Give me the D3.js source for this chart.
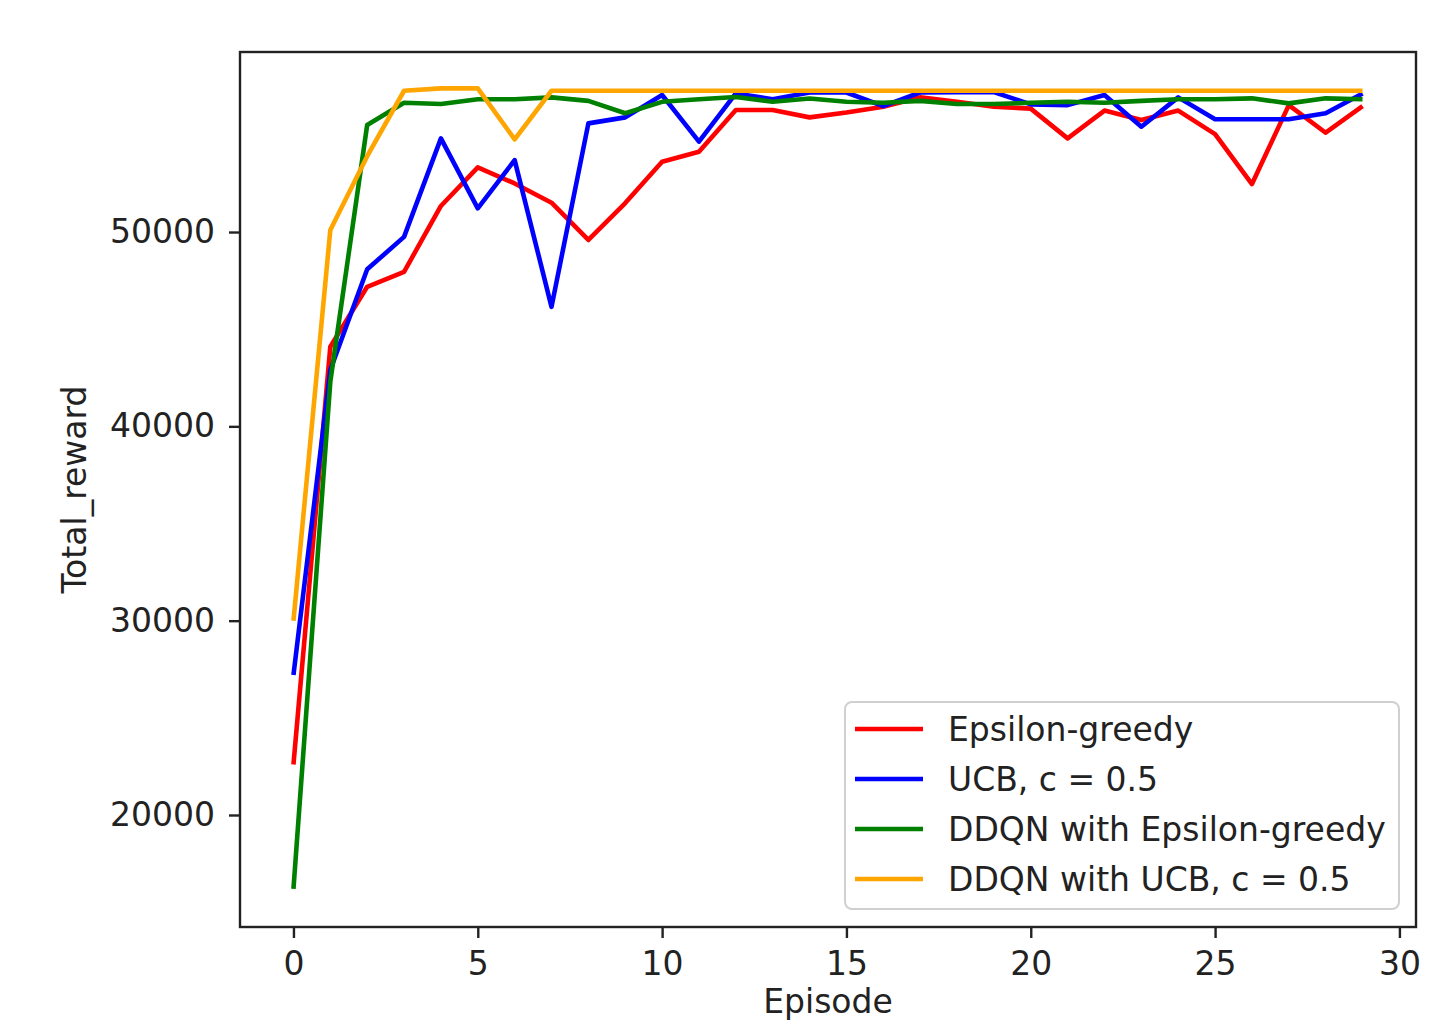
<!DOCTYPE html>
<html>
<head>
<meta charset="utf-8">
<script src="https://cdn.jsdelivr.net/npm/d3@7"></script>
<style>
  html, body { margin: 0; padding: 0; background: #fff; }
  svg { display: block; }
  text { font-family: "DejaVu Sans", sans-serif; fill: #222; }
</style>
</head>
<body>
<script>
// ---- data ----
const episodes = d3.range(0, 30);
const epsilonGreedy = [22600, 44100, 47180, 47950, 51340, 53330, 52500, 51510, 49590, 51490,
  53620, 54130, 56280, 56280, 55900, 56150, 56450, 56930, 56700, 56450,
  56350, 54820, 56250, 55760, 56250, 55040, 52470, 56530, 55110, 56480];
const ucb = [27200, 42900, 48080, 49750, 54820, 51220, 53700, 46150, 55590, 55900,
  57050, 54650, 57130, 56830, 57180, 57180, 56480, 57180, 57200, 57200,
  56570, 56530, 57050, 55420, 56930, 55800, 55800, 55800, 56110, 57130];
const ddqnEps = [16200, 42300, 55510, 56650, 56590, 56830, 56830, 56930, 56750, 56110,
  56700, 56830, 56950, 56700, 56870, 56700, 56650, 56750, 56590, 56590,
  56650, 56700, 56650, 56750, 56830, 56830, 56880, 56620, 56880, 56830];
const ddqnUcb = [30000, 50100, 53900, 57270, 57390, 57390, 54770, 57270, 57270, 57270,
  57270, 57270, 57270, 57270, 57270, 57270, 57270, 57270, 57270, 57270,
  57270, 57270, 57270, 57270, 57270, 57270, 57270, 57270, 57270, 57270];
const seriesNames = ["Epsilon-greedy", "UCB, c = 0.5", "DDQN with Epsilon-greedy", "DDQN with UCB, c = 0.5"];
const seriesColors = ["#ff0000", "#0000ff", "#008000", "#ffa500"];
const xTicks = [0, 5, 10, 15, 20, 25, 30];
const yTicks = [20000, 30000, 40000, 50000];
const xLabel = "Episode";
const yLabel = "Total_reward";

// ---- layout ----
const W = 1453, H = 1021;
const L = 240, R = 1416, T = 52, B = 927;
const FS = 33;

const svg = d3.select("body").append("svg").attr("width", W).attr("height", H);

const x = d3.scaleLinear().domain([-1.45, 30.45]).range([L, R]);
const y = d3.scaleLinear().domain([14236, 59264]).range([B, T]);

const allSeries = [epsilonGreedy, ucb, ddqnEps, ddqnUcb];

// clip
svg.append("clipPath").attr("id", "clip").append("rect")
  .attr("x", L).attr("y", T).attr("width", R - L).attr("height", B - T);

const line = d3.line().x((d, i) => x(episodes[i])).y(d => y(d));

const g = svg.append("g").attr("clip-path", "url(#clip)");
allSeries.forEach((s, k) => {
  g.append("path").datum(s)
    .attr("d", line)
    .attr("fill", "none")
    .attr("stroke", seriesColors[k])
    .attr("stroke-width", 4.6)
    .attr("stroke-linejoin", "round")
    .attr("stroke-linecap", "butt");
});

// axes
const xAxis = d3.axisBottom(x).tickValues(xTicks).tickSize(11).tickPadding(14).tickFormat(d3.format("d"));
const yAxis = d3.axisLeft(y).tickValues(yTicks).tickSize(11).tickPadding(14).tickFormat(d => String(d));

const gx = svg.append("g").attr("transform", `translate(0,${B})`).call(xAxis);
const gy = svg.append("g").attr("transform", `translate(${L},0)`).call(yAxis);
[gx, gy].forEach(a => {
  a.select(".domain").remove();
  a.selectAll(".tick line").attr("stroke", "#222").attr("stroke-width", 2.4);
  a.selectAll(".tick text").attr("font-size", FS).attr("font-family", "DejaVu Sans").attr("fill", "#222");
});
gx.selectAll(".tick text").attr("dy", "0.71em");

// frame
svg.append("rect").attr("x", L).attr("y", T).attr("width", R - L).attr("height", B - T)
  .attr("fill", "none").attr("stroke", "#222").attr("stroke-width", 2.4);

// axis labels
svg.append("text").attr("x", (L + R) / 2).attr("y", 1013)
  .attr("text-anchor", "middle").attr("font-size", FS).text(xLabel);
svg.append("text")
  .attr("transform", `translate(86,${(T + B) / 2}) rotate(-90)`)
  .attr("text-anchor", "middle").attr("font-size", FS).text(yLabel);

// legend
const lg = svg.append("g");
lg.append("rect").attr("x", 845).attr("y", 702).attr("width", 554).attr("height", 207)
  .attr("rx", 7).attr("ry", 7)
  .attr("fill", "rgba(255,255,255,0.8)").attr("stroke", "#d0d0d0").attr("stroke-width", 2);
seriesNames.forEach((n, k) => {
  const yy = 729 + k * 50;
  lg.append("line").attr("x1", 855).attr("x2", 923).attr("y1", yy).attr("y2", yy)
    .attr("stroke", seriesColors[k]).attr("stroke-width", 4.6);
  lg.append("text").attr("x", 948).attr("y", yy).attr("dy", "0.36em")
    .attr("font-size", FS).text(n);
});
</script>
</body>
</html>
